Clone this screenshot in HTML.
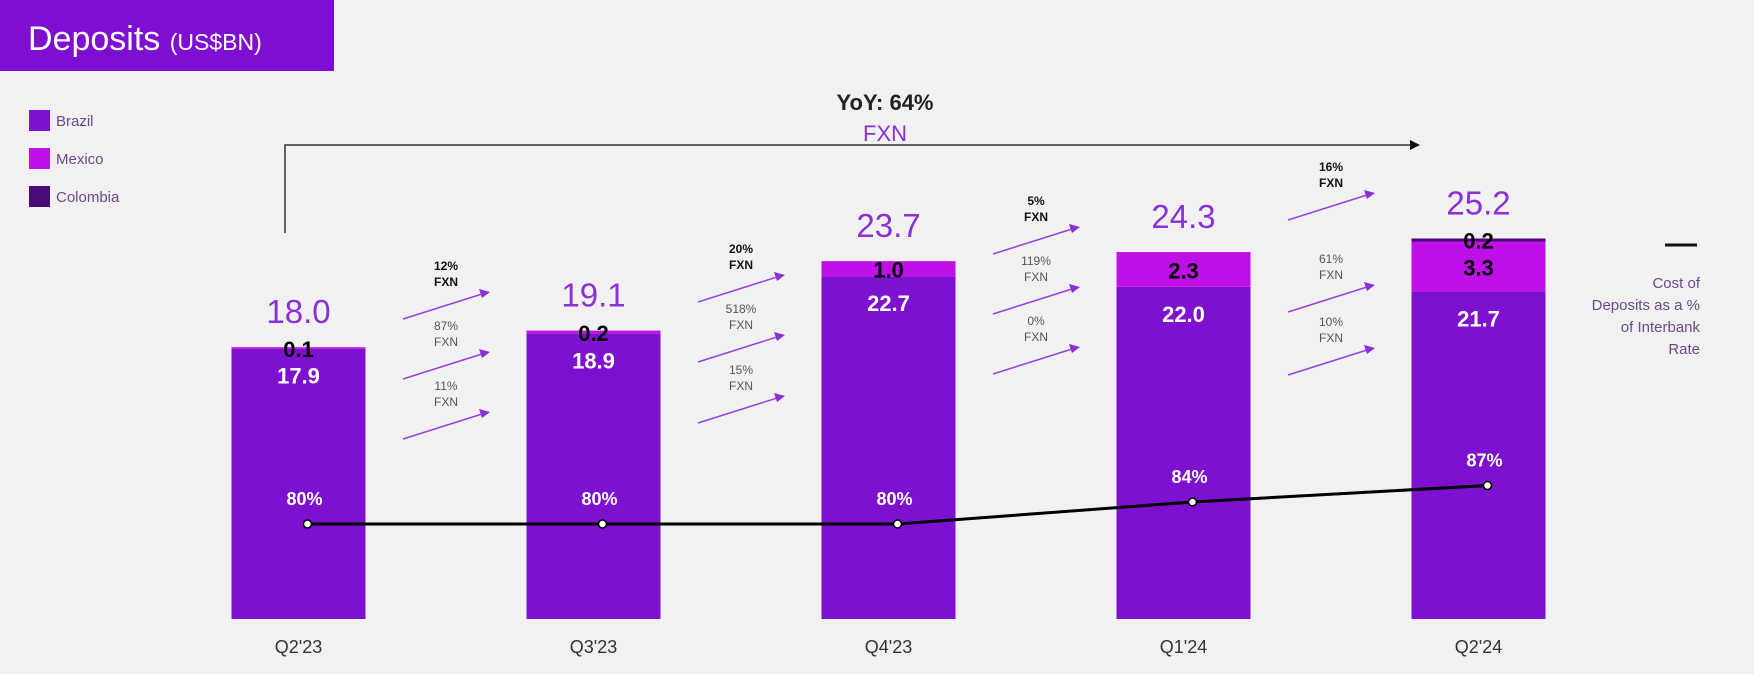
<!DOCTYPE html>
<html><head><meta charset="utf-8"><style>
body{margin:0;background:#f1f1f1;font-family:"Liberation Sans",sans-serif;}
svg{display:block}
</style></head><body>
<svg id="chart" width="1754" height="674" viewBox="0 0 1754 674" xmlns="http://www.w3.org/2000/svg">
<rect x="0" y="0" width="1754" height="674" fill="#f1f1f1"/>
<g>
<rect x="0" y="0" width="334" height="71" fill="#7e0fd2"/>
<text x="28" y="50" fill="#fff" font-size="34">Deposits <tspan font-size="23">(US$BN)</tspan></text>
</g>
<g>
<g><rect x="29" y="110" width="21" height="21" fill="#7e10d0"/><text x="56" y="126" font-size="15" fill="#6a4a88">Brazil</text></g>
<g><rect x="29" y="148" width="21" height="21" fill="#c010e8"/><text x="56" y="164" font-size="15" fill="#6a4a88">Mexico</text></g>
<g><rect x="29" y="186" width="21" height="21" fill="#4a0a78"/><text x="56" y="202" font-size="15" fill="#6a4a88">Colombia</text></g>
</g>
<g>
<polyline points="285,233 285,145 1410,145" fill="none" stroke="#333" stroke-width="1.5"/>
<polygon points="1410,140 1420,145 1410,150" fill="#111"/>
<text x="885" y="110" text-anchor="middle" font-size="22" font-weight="bold" fill="#222">YoY: 64%</text>
<text x="885" y="141" text-anchor="middle" font-size="22" fill="#8b2fd6">FXN</text>
</g>
<g id="bars"></g>
<g id="arrows"></g>
<g id="line"></g>
<g>
<line x1="1665" y1="245" x2="1697" y2="245" stroke="#111" stroke-width="3"/>
<text text-anchor="end" font-size="15" fill="#6a4a88">
<tspan x="1700" y="288">Cost of</tspan><tspan x="1700" y="310">Deposits as a %</tspan><tspan x="1700" y="332">of Interbank</tspan><tspan x="1700" y="354">Rate</tspan></text>
</g>
</svg>
<script>
const categories=["Q2'23","Q3'23","Q4'23","Q1'24","Q2'24"];
const brazil=[17.9,18.9,22.7,22.0,21.7];
const mexico=[0.1,0.2,1.0,2.3,3.3];
const colombia=[0,0,0,0,0.2];
const totals=["18.0","19.1","23.7","24.3","25.2"];
const costPct=[80,80,80,84,87];
const growthLabels=[["12%","87%","11%"],["20%","518%","15%"],["5%","119%","0%"],["16%","61%","10%"]];

const NS="http://www.w3.org/2000/svg";
const base=619, pxPer=15.1, barW=134;
const xC=i=>298.5+i*295;
const yV=v=>base-v*pxPer;
const yL=p=>524-(p-80)*5.5;
function mk(tag,attrs,parent,txt){const e=document.createElementNS(NS,tag);for(const k in attrs)e.setAttribute(k,attrs[k]);if(txt!==undefined)e.textContent=txt;parent.appendChild(e);return e;}
const gB=document.getElementById('bars');
categories.forEach((c,i)=>{
  const x=xC(i)-barW/2;
  const bTop=yV(brazil[i]), mTop=yV(brazil[i]+mexico[i]), cTop=yV(brazil[i]+mexico[i]+colombia[i]);
  let r=mk('rect',{x:x,y:bTop,width:barW,height:base-bTop,fill:'#7e10d0'},gB);
  
  
  r=mk('rect',{x:x,y:mTop,width:barW,height:bTop-mTop,fill:'#c010e8'},gB);
  
  
  if(colombia[i]>0){
    r=mk('rect',{x:x,y:cTop,width:barW,height:mTop-cTop,fill:'#4a0a78'},gB);
    
    
    let t=mk('text',{x:xC(i),y:cTop+10,'text-anchor':'middle','font-size':22,'font-weight':'bold',fill:'#000'},gB,colombia[i].toFixed(1));
    
    
  }
  let t=mk('text',{x:xC(i),y:bTop+35,'text-anchor':'middle','font-size':22,'font-weight':'bold',fill:'#fff'},gB,brazil[i].toFixed(1));
  
  
  t=mk('text',{x:xC(i),y:(mTop+bTop)/2+9,'text-anchor':'middle','font-size':22,'font-weight':'bold',fill:'#000'},gB,mexico[i].toFixed(1));
  
  
  t=mk('text',{x:xC(i),y:cTop-24,'text-anchor':'middle','font-size':33,fill:'#8b2fd6'},gB,totals[i]);
  
  
  t=mk('text',{x:xC(i),y:653,'text-anchor':'middle','font-size':18,fill:'#333'},gB,c);
  
  
});
const gA=document.getElementById('arrows');
const arrowTops=[292,275,227,193];
const arrowGaps=[[0,60,120],[0,60,121],[0,60,120],[0,92,155]];
growthLabels.forEach((g,i)=>{
  const mx=(xC(i)+xC(i+1))/2;
  g.forEach((lab,j)=>{
    const yEnd=arrowTops[i]+arrowGaps[i][j];
    const grp=mk('g',{},gA);
    
    
    mk('line',{x1:mx-43,y1:yEnd+27,x2:mx+36,y2:yEnd+2,stroke:'#9a40e0','stroke-width':1.5},grp);
    mk('polygon',{points:`${mx+44},${yEnd} ${mx+33},${yEnd-3} ${mx+36},${yEnd+6}`,fill:'#8b2fd6'},grp);
    const bold=j===0;
    mk('text',{x:mx,y:yEnd-22,'text-anchor':'middle','font-size':12,'font-weight':bold?'bold':'normal',fill:bold?'#111':'#555'},grp,lab);
    mk('text',{x:mx,y:yEnd-6,'text-anchor':'middle','font-size':12,'font-weight':bold?'bold':'normal',fill:bold?'#111':'#555'},grp,'FXN');
  });
});
const gL=document.getElementById('line');
const pts=costPct.map((p,i)=>[xC(i)+9,yL(p)]);
const pl=mk('polyline',{points:pts.map(p=>p.join(',')).join(' '),fill:'none',stroke:'#000','stroke-width':3},gL);


pts.forEach((p,i)=>{
  const c=mk('circle',{cx:p[0],cy:p[1],r:4,fill:'#fff',stroke:'#000','stroke-width':1.5},gL);
  
  
  const t=mk('text',{x:p[0]-3,y:p[1]-19,'text-anchor':'middle','font-size':18,'font-weight':'bold',fill:'#fff'},gL,costPct[i]+'%');
  
  
});
</script>
</body></html>
